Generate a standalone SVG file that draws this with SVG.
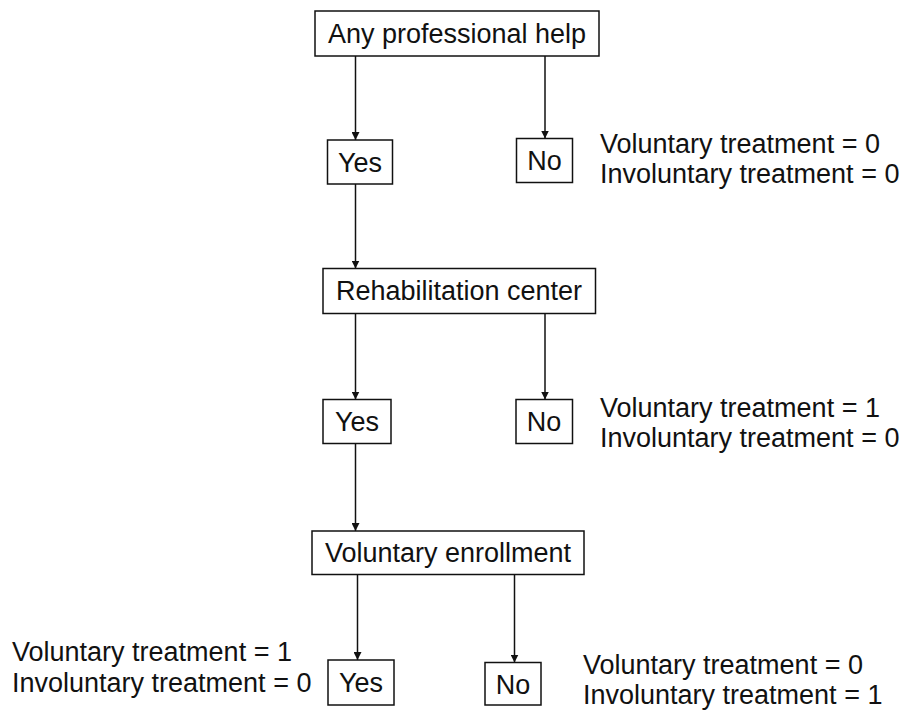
<svg xmlns="http://www.w3.org/2000/svg" width="907" height="715" viewBox="0 0 907 715">
<style>
.box{fill:#fff;stroke:#111;stroke-width:1.5}
.t{font-family:"Liberation Sans",Arial,sans-serif;font-size:27px;fill:#111}
.c{text-anchor:middle}
.ln{stroke:#111;stroke-width:1.5;fill:none}
</style>
<defs>
<marker id="ah" viewBox="0 0 8 8" refX="8" refY="4" markerWidth="8" markerHeight="8" markerUnits="userSpaceOnUse" orient="auto">
<path d="M0,0 L8,4 L0,8 z" fill="#111"/>
</marker>
</defs>
<rect width="907" height="715" fill="#fff"/>
<g id="connectors">
<line class="ln" x1="355.5" y1="56" x2="355.5" y2="140" marker-end="url(#ah)"/>
<line class="ln" x1="545" y1="56" x2="545" y2="138.5" marker-end="url(#ah)"/>
<line class="ln" x1="355.5" y1="184" x2="355.5" y2="268.5" marker-end="url(#ah)"/>
<line class="ln" x1="355.5" y1="313.5" x2="355.5" y2="399.5" marker-end="url(#ah)"/>
<line class="ln" x1="545" y1="313.5" x2="545" y2="399.5" marker-end="url(#ah)"/>
<line class="ln" x1="355.5" y1="443.5" x2="355.5" y2="531" marker-end="url(#ah)"/>
<line class="ln" x1="357.5" y1="574.5" x2="357.5" y2="660" marker-end="url(#ah)"/>
<line class="ln" x1="514.5" y1="574.5" x2="514.5" y2="662.5" marker-end="url(#ah)"/>
</g>
<g id="n_help"><rect class="box" x="315" y="11" width="284" height="45"/><text class="t c" x="457" y="42.5">Any professional help</text></g>
<g id="n_yes1"><rect class="box" x="327.5" y="140" width="65" height="44"/><text class="t c" x="360" y="171.5">Yes</text></g>
<g id="n_no1"><rect class="box" x="516.5" y="138.5" width="56" height="44"/><text class="t c" x="544.5" y="170">No</text></g>
<g id="out1"><text class="t" x="600" y="153">Voluntary treatment = 0</text><text class="t" x="600" y="183">Involuntary treatment = 0</text></g>
<g id="n_rehab"><rect class="box" x="323" y="268.5" width="272.5" height="45"/><text class="t c" x="459" y="300">Rehabilitation center</text></g>
<g id="n_yes2"><rect class="box" x="323" y="399.5" width="68" height="44"/><text class="t c" x="357" y="431">Yes</text></g>
<g id="n_no2"><rect class="box" x="516" y="399.5" width="56.5" height="44"/><text class="t c" x="544" y="431">No</text></g>
<g id="out2"><text class="t" x="600" y="416.5">Voluntary treatment = 1</text><text class="t" x="600" y="446.5">Involuntary treatment = 0</text></g>
<g id="n_vol"><rect class="box" x="312" y="531" width="272" height="43.5"/><text class="t c" x="448" y="562">Voluntary enrollment</text></g>
<g id="n_yes3"><rect class="box" x="328" y="660" width="66" height="45"/><text class="t c" x="361" y="692">Yes</text></g>
<g id="n_no3"><rect class="box" x="485" y="662.5" width="56" height="42.5"/><text class="t c" x="513" y="693.5">No</text></g>
<g id="out3"><text class="t" x="12" y="661">Voluntary treatment = 1</text><text class="t" x="12" y="692">Involuntary treatment = 0</text></g>
<g id="out4"><text class="t" x="583" y="674">Voluntary treatment = 0</text><text class="t" x="583" y="704">Involuntary treatment = 1</text></g>
</svg>
